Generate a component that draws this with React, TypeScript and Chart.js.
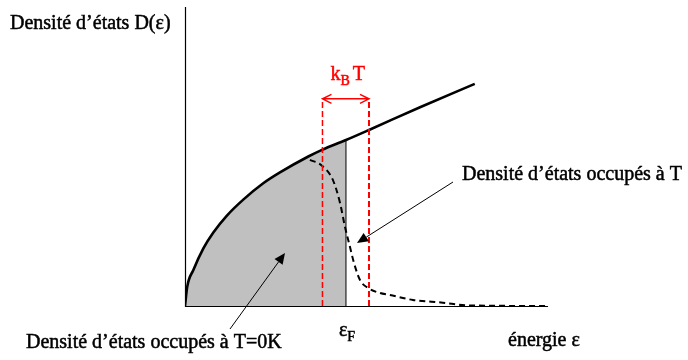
import React, { useEffect, useRef } from "react";
import { Chart, registerables } from "chart.js";

Chart.register(...registerables);

// Energy in units of the Fermi energy, density in units of D(εF)
const X_MAX = 2.255;
const Y_MAX = 1.79;

// Density of states D(ε) (solid curve)
const DOS_E = [0, 0.014, 0.052, 0.114, 0.176, 0.259, 0.362, 0.486, 0.59, 0.766, 0.851, 1.0, 1.143, 1.46, 1.8];
const DOS_D = [0, 0.116, 0.216, 0.345, 0.44, 0.54, 0.637, 0.735, 0.8, 0.895, 0.935, 0.994, 1.054, 1.19, 1.33];

// Occupied states at T (dashed curve)
const OCC_E = [0.776, 0.851, 0.919, 0.963, 0.994, 1.025, 1.05, 1.087, 1.137, 1.211, 1.273, 1.416, 1.602, 1.75, 2.255];
const OCC_D = [0.875, 0.84, 0.754, 0.617, 0.473, 0.353, 0.257, 0.156, 0.108, 0.078, 0.066, 0.036, 0.02, 0.004, 0];

// Fermi level and kBT window
const FERMI_E = 1.0;
const KT_LEFT = 0.854;
const KT_RIGHT = 1.143;
const KT_TOP = 1.24;

// Texts
const LABEL_Y = "Densité d’états D(ε)";
const LABEL_X = "énergie ε";
const LABEL_T = "Densité d’états occupés à T";
const LABEL_T0 = "Densité d’états occupés à T=0K";

const FONT = "'Liberation Serif', 'Times New Roman', serif";

function pts(xs: number[], ys: number[]) {
  return xs.map((x, i) => ({ x, y: ys[i] }));
}

function arrow(ctx: CanvasRenderingContext2D, x0: number, y0: number, x1: number, y1: number) {
  const ang = Math.atan2(y1 - y0, x1 - x0);
  const len = 11;
  const w = 5;
  const bx = x1 - len * Math.cos(ang);
  const by = y1 - len * Math.sin(ang);
  ctx.beginPath();
  ctx.moveTo(x0, y0);
  ctx.lineTo(bx, by);
  ctx.stroke();
  ctx.beginPath();
  ctx.moveTo(x1, y1);
  ctx.lineTo(bx + w * Math.sin(ang), by - w * Math.cos(ang));
  ctx.lineTo(bx - w * Math.sin(ang), by + w * Math.cos(ang));
  ctx.closePath();
  ctx.fill();
}

function heavyText(ctx: CanvasRenderingContext2D, t: string, x: number, y: number) {
  ctx.fillText(t, x, y);
  ctx.lineWidth = 0.5;
  ctx.strokeText(t, x, y);
}

const overlay = {
  id: "overlay",
  beforeDatasetsDraw(chart: any) {
    const { ctx, chartArea: a } = chart;
    ctx.save();
    ctx.strokeStyle = "#000";
    ctx.lineWidth = 1.2;
    ctx.beginPath();
    ctx.moveTo(a.left + 0.5, a.top);
    ctx.lineTo(a.left + 0.5, a.bottom + 0.5);
    ctx.lineTo(a.right, a.bottom + 0.5);
    ctx.stroke();
    ctx.restore();
  },
  afterDatasetsDraw(chart: any) {
    const { ctx } = chart;
    const xs = chart.scales.x;
    const ys = chart.scales.y;
    ctx.save();

    // red double arrow kBT
    const xl = xs.getPixelForValue(KT_LEFT);
    const xr = xs.getPixelForValue(KT_RIGHT);
    const yt = ys.getPixelForValue(KT_TOP);
    ctx.strokeStyle = "#ff0000";
    ctx.lineWidth = 1.5;
    ctx.beginPath();
    ctx.moveTo(xl, yt);
    ctx.lineTo(xr, yt);
    ctx.moveTo(xl + 9, yt - 4.5);
    ctx.lineTo(xl, yt);
    ctx.lineTo(xl + 9, yt + 4.5);
    ctx.moveTo(xr - 9, yt - 4.5);
    ctx.lineTo(xr, yt);
    ctx.lineTo(xr - 9, yt + 4.5);
    ctx.stroke();

    // kBT label
    ctx.fillStyle = "#ff0000";
    ctx.strokeStyle = "#ff0000";
    ctx.textBaseline = "alphabetic";
    ctx.textAlign = "left";
    const big = `20px ${FONT}`;
    const small = `14px ${FONT}`;
    ctx.font = big;
    const wk = ctx.measureText("k").width;
    const wt = ctx.measureText("T").width;
    ctx.font = small;
    const wb = ctx.measureText("B").width;
    const gap = 3;
    const total = wk + wb + gap + wt;
    let cx = (xl + xr) / 2 + 2 - total / 2;
    const base = 80;
    ctx.font = big;
    heavyText(ctx, "k", cx, base);
    cx += wk;
    ctx.font = small;
    heavyText(ctx, "B", cx, base + 5);
    cx += wb + gap;
    ctx.font = big;
    heavyText(ctx, "T", cx, base);

    // black texts
    ctx.fillStyle = "#000";
    ctx.strokeStyle = "#000";
    ctx.font = big;
    heavyText(ctx, LABEL_Y, 10, 29);
    heavyText(ctx, LABEL_T, 462, 180);
    heavyText(ctx, LABEL_T0, 26, 348);
    heavyText(ctx, LABEL_X, 508, 346);

    // εF
    const xf = xs.getPixelForValue(FERMI_E);
    ctx.font = big;
    const we = ctx.measureText("ε").width;
    heavyText(ctx, "ε", xf - 7, 336);
    ctx.font = small;
    heavyText(ctx, "F", xf - 7 + we, 341);

    // annotation arrows
    ctx.strokeStyle = "#000";
    ctx.fillStyle = "#000";
    ctx.lineWidth = 1;
    arrow(ctx, 453, 182, 357, 243);
    arrow(ctx, 230, 329, 285, 253);

    ctx.restore();
  },
};

export default function App() {
  const ref = useRef<HTMLCanvasElement | null>(null);

  useEffect(() => {
    if (!ref.current) return;
    const dos = pts(DOS_E, DOS_D);
    const filled = dos.filter((p) => p.x <= FERMI_E);
    const fermiD = DOS_D[DOS_E.indexOf(FERMI_E)];
    const chart = new Chart(ref.current, {
      type: "scatter",
      data: {
        datasets: [
          {
            order: 6,
            data: filled,
            showLine: true,
            fill: "origin",
            backgroundColor: "#c0c0c0",
            borderWidth: 0,
            pointRadius: 0,
            cubicInterpolationMode: "monotone",
          },
          {
            order: 5,
            data: [
              { x: FERMI_E, y: 0 },
              { x: FERMI_E, y: fermiD },
            ],
            showLine: true,
            borderColor: "#000",
            borderWidth: 1,
            pointRadius: 0,
          },
          {
            order: 4,
            data: pts(OCC_E, OCC_D),
            showLine: true,
            borderColor: "#000",
            borderWidth: 2,
            borderDash: [6, 4],
            pointRadius: 0,
            cubicInterpolationMode: "monotone",
          },
          {
            order: 3,
            data: dos,
            showLine: true,
            borderColor: "#000",
            borderWidth: 2.6,
            pointRadius: 0,
            cubicInterpolationMode: "monotone",
          },
          {
            order: 2,
            data: [
              { x: KT_LEFT, y: 0 },
              { x: KT_LEFT, y: KT_TOP },
            ],
            showLine: true,
            borderColor: "#ff0000",
            borderWidth: 1.5,
            borderDash: [6, 3],
            pointRadius: 0,
          },
          {
            order: 1,
            data: [
              { x: KT_RIGHT, y: 0 },
              { x: KT_RIGHT, y: KT_TOP },
            ],
            showLine: true,
            borderColor: "#ff0000",
            borderWidth: 2,
            borderDash: [6, 3],
            pointRadius: 0,
          },
        ],
      },
      options: {
        animation: false,
        responsive: false,
        devicePixelRatio: 1,
        layout: { padding: { left: 185, right: 140, top: 7, bottom: 54 } },
        plugins: { legend: { display: false }, tooltip: { enabled: false } },
        scales: {
          x: { type: "linear", min: 0, max: X_MAX, display: false },
          y: { type: "linear", min: 0, max: Y_MAX, display: false },
        },
      } as any,
      plugins: [overlay],
    });
    return () => chart.destroy();
  }, []);

  return (
    <div style={{ position: "fixed", left: 0, top: 0, width: 688, height: 360, background: "#fff" }}>
      <canvas ref={ref} width={688} height={360} style={{ width: 688, height: 360 }} />
    </div>
  );
}
